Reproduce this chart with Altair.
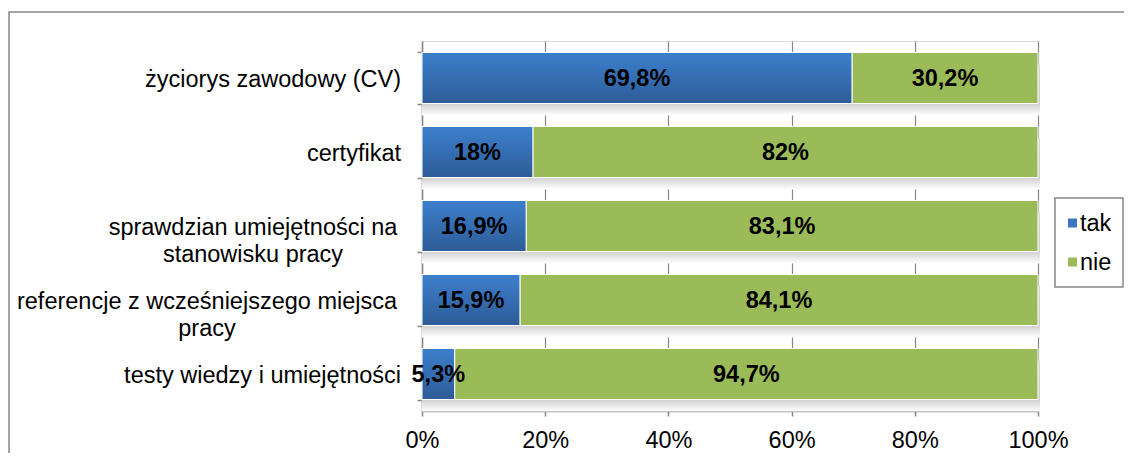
import altair as alt
import pandas as pd

categories = [
    "życiorys zawodowy (CV)",
    "certyfikat",
    "sprawdzian umiejętności na\nstanowisku pracy",
    "referencje z wcześniejszego miejsca\npracy",
    "testy wiedzy i umiejętności",
]
tak = [69.8, 18.0, 16.9, 15.9, 5.3]
nie = [30.2, 82.0, 83.1, 84.1, 94.7]
series = ["tak", "nie"]
colors = ["#3a76c1", "#9bbb59"]
x_ticks = [0, 20, 40, 60, 80, 100]

def fmt(v):
    return f"{v:g}".replace(".", ",") + "%"

rows = []
for c, t, n in zip(categories, tak, nie):
    rows.append({"cat": c, "series": "tak", "order": 0, "value": t, "label": fmt(t)})
    rows.append({"cat": c, "series": "nie", "order": 1, "value": n, "label": fmt(n)})
df = pd.DataFrame(rows)
cat_df = pd.DataFrame({"cat": categories})
ser_df = pd.DataFrame({"series": series})
frame_df = pd.DataFrame({"k": [0]})

W, H = 616, 370
FS = 23.5
FONT = "Liberation Sans"
AX = "#868686"

band = alt.Scale(paddingInner=0.31, paddingOuter=0.155)
y_enc = alt.Y("cat:N", sort=categories, scale=band,
              axis=alt.Axis(labels=False, title=None, tickBand="extent",
                            domainColor=AX, tickColor=AX, domainWidth=1.5,
                            tickWidth=1.5, tickSize=5, grid=False))
x_scale = alt.Scale(domain=[0, 100], nice=False)
color_scale = alt.Scale(domain=series, range=colors)

frame = alt.Chart(frame_df).mark_rect(fill=None, stroke="#888888", strokeWidth=1.5).encode(
    x=alt.value(-413), x2=alt.value(900), y=alt.value(-29), y2=alt.value(600)
)

shadow = alt.Chart(df).transform_filter(alt.datum.series == "nie").mark_bar(
    yOffset=12,
    fill=alt.Gradient(gradient="linear", x1=0, y1=0, x2=0, y2=1,
                      stops=[alt.GradientStop(offset=0, color="#d6d6d6"),
                             alt.GradientStop(offset=0.75, color="#cdcdcd"),
                             alt.GradientStop(offset=1, color="#ffffff")]),
).encode(
    y=alt.Y("cat:N", sort=categories, scale=band),
    x=alt.value(0),
    x2=alt.value(W + 2),
)

bars = alt.Chart(df).mark_bar(stroke="white", strokeWidth=1).encode(
    y=y_enc,
    x=alt.X("value:Q", stack="zero", scale=x_scale,
            axis=alt.Axis(values=x_ticks, labelExpr="datum.value + '%'", title=None,
                          domainColor=AX, tickColor=AX, domainWidth=1.5, tickWidth=1.5,
                          tickSize=5, labelFontSize=FS, labelFont=FONT, labelColor="black",
                          labelPadding=12, labelFlush=False,
                          grid=True, gridColor=AX, gridWidth=1.2)),
    color=alt.Color("series:N", sort=series, scale=color_scale, legend=None),
    order=alt.Order("order:Q"),
)

tak_grad = alt.Chart(df).transform_filter(alt.datum.series == "tak").mark_bar(
    stroke="white", strokeWidth=1,
    fill=alt.Gradient(gradient="linear", x1=0, y1=0, x2=0, y2=1,
                      stops=[alt.GradientStop(offset=0, color="#3d7fcd"),
                             alt.GradientStop(offset=1, color="#2d5c97")]),
).encode(
    y=alt.Y("cat:N", sort=categories),
    x=alt.X("value:Q", scale=x_scale),
    x2=alt.datum(0),
)

labels = alt.Chart(df).transform_stack(
    stack="value", groupby=["cat"], as_=["v0", "v1"], sort=[alt.SortField("order")]
).transform_calculate(mid="(datum.v0 + datum.v1) / 2").mark_text(
    fontSize=FS, fontWeight="bold", font=FONT, color="black", baseline="middle", dy=1
).encode(
    y=alt.Y("cat:N", sort=categories),
    x=alt.X("mid:Q", scale=x_scale),
    text="label:N",
)

def cat_label(name, x, align):
    return alt.Chart(cat_df).transform_filter(alt.datum.cat == name).mark_text(
        fontSize=FS, font=FONT, color="black", align=align, baseline="middle",
        lineBreak="\n", lineHeight=27, dy=2
    ).encode(
        y=alt.Y("cat:N", sort=categories),
        x=alt.value(x),
        text="cat:N",
    )

ylabels = [
    cat_label(categories[0], -21, "right"),
    cat_label(categories[1], -21, "right"),
    cat_label(categories[2], -169, "center"),
    cat_label(categories[3], -215, "center"),
    cat_label(categories[4], -21, "right"),
]

# manual legend (box, symbols, labels)
legend_box = alt.Chart(frame_df).mark_rect(fill="white", stroke=AX, strokeWidth=1.5).encode(
    x=alt.value(633), x2=alt.value(701), y=alt.value(157), y2=alt.value(246)
)
legend_items = []
for s, ly in zip(series, [182, 221]):
    legend_items.append(
        alt.Chart(ser_df).transform_filter(alt.datum.series == s).mark_square(
            size=81, opacity=1, strokeWidth=0
        ).encode(
            x=alt.value(650.5), y=alt.value(ly),
            color=alt.Color("series:N", scale=color_scale, legend=None),
        )
    )
    legend_items.append(
        alt.Chart(ser_df).transform_filter(alt.datum.series == s).mark_text(
            fontSize=FS, font=FONT, color="black", align="left", baseline="middle", dy=1
        ).encode(x=alt.value(658), y=alt.value(ly), text="series:N")
    )

chart = alt.layer(frame, shadow, bars, tak_grad, labels, *ylabels, legend_box, *legend_items).properties(
    width=W, height=H,
    autosize=alt.AutoSizeParams(type="none"),
    padding={"left": 414, "top": 33, "right": 86, "bottom": 42},
).configure_view(stroke=None).configure(font=FONT)

chart.save("out.html", embed_options={"renderer": "svg", "actions": False})
